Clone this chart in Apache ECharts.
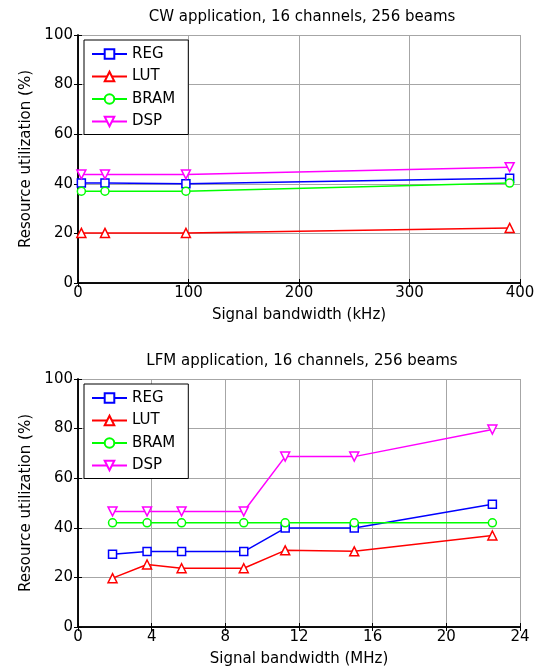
<!DOCTYPE html>
<html>
<head>
<meta charset="utf-8">
<script src="https://cdn.jsdelivr.net/npm/echarts@6/dist/echarts.min.js"></script>
<style>
  html, body { margin: 0; padding: 0; background: #fff; }
  #chart { width: 548px; height: 671px; }
</style>
</head>
<body>
<div id="chart"></div>
<script>
// CW application: bandwidths in kHz
const cwBandwidth = [3.05, 24.41, 97.66, 390.63];
const cwReg  = [40.3, 40.3, 40.0, 42.2];
const cwLut  = [20.2, 20.2, 20.2, 22.2];
const cwBram = [37.0, 37.0, 37.0, 40.3];
const cwDsp  = [43.8, 43.8, 43.8, 46.7];

// LFM application: bandwidths in MHz
const lfmBandwidth = [1.875, 3.75, 5.625, 9, 11.25, 15, 22.5];
const lfmReg  = [29.3, 30.4, 30.4, 30.4, 39.9, 39.9, 49.5];
const lfmLut  = [19.7, 25.2, 23.7, 23.7, 30.9, 30.5, 36.9];
const lfmBram = [42.0, 42.0, 42.0, 42.0, 42.0, 42.0, 42.0];
const lfmDsp  = [46.6, 46.6, 46.6, 46.6, 68.7, 68.7, 79.6];

const resourceNames = ['REG', 'LUT', 'BRAM', 'DSP'];
const yTicks = [0, 20, 40, 60, 80, 100];
const cwXTicks = [0, 100, 200, 300, 400];
const lfmXTicks = [0, 4, 8, 12, 16, 20, 24];

const titles = ['CW application, 16 channels, 256 beams', 'LFM application, 16 channels, 256 beams'];
const xNames = ['Signal bandwidth (kHz)', 'Signal bandwidth (MHz)'];
const yName = 'Resource utilization (%)';

const colors = ['#0000ff', '#ff0000', '#00ff00', '#ff00ff'];
const symbols = ['rect', 'triangle', 'circle', 'path://M0,0 L10,0 L5,8.66 Z'];
const symbolSizes = [8, 9, 8, 9];

const FONT = 'DejaVu Sans, Verdana, sans-serif';

const grids = [
  { left: 78, right: 28, top: 35, height: 248 },
  { left: 78, right: 28, top: 379, height: 248 }
];

function pairs(xs, ys) { return xs.map((x, i) => [x, ys[i]]); }

const panels = [
  { xs: cwBandwidth, sets: [cwReg, cwLut, cwBram, cwDsp], ticks: cwXTicks },
  { xs: lfmBandwidth, sets: [lfmReg, lfmLut, lfmBram, lfmDsp], ticks: lfmXTicks }
];

const frameLine = { show: true, lineStyle: { color: '#000', width: 1.5 } };
const innerTick = { show: true, inside: true, length: 4, lineStyle: { color: '#000' } };
const gridLine = { show: true, lineStyle: { color: '#a6a6a6', width: 1 } };

const xAxes = [], yAxes = [], series = [], titleList = [], legends = [];

panels.forEach((p, g) => {
  const xMin = p.ticks[0], xMax = p.ticks[p.ticks.length - 1];
  const xInt = p.ticks[1] - p.ticks[0];
  const yInt = yTicks[1] - yTicks[0];
  // bottom x axis with labels
  xAxes.push({
    type: 'value', gridIndex: g, min: xMin, max: xMax, interval: xInt, position: 'bottom',
    name: xNames[g], nameLocation: 'middle', nameGap: 25,
    nameTextStyle: { fontFamily: FONT, fontSize: 15, color: '#000' },
    axisLine: frameLine, axisTick: innerTick,
    axisLabel: { fontFamily: FONT, fontSize: 15, color: '#000', margin: 3 },
    splitLine: gridLine
  });
  // top x axis, ticks only (closes the box)
  xAxes.push({
    type: 'value', gridIndex: g, min: xMin, max: xMax, interval: xInt, position: 'top',
    axisLine: frameLine, axisTick: innerTick,
    axisLabel: { show: false }, splitLine: { show: false }
  });
  yAxes.push({
    type: 'value', gridIndex: g, min: yTicks[0], max: yTicks[yTicks.length - 1], interval: yInt,
    position: 'left',
    name: yName, nameLocation: 'middle', nameGap: 44, nameRotate: 90,
    nameTextStyle: { fontFamily: FONT, fontSize: 15, color: '#000' },
    axisLine: frameLine, axisTick: innerTick,
    axisLabel: { fontFamily: FONT, fontSize: 15, color: '#000', margin: 5 },
    splitLine: gridLine
  });
  yAxes.push({
    type: 'value', gridIndex: g, min: yTicks[0], max: yTicks[yTicks.length - 1], interval: yInt,
    position: 'right',
    axisLine: frameLine, axisTick: innerTick,
    axisLabel: { show: false }, splitLine: { show: false }
  });

  titleList.push({
    text: titles[g], left: 297, textAlign: 'center', top: g === 0 ? 5 : 349,
    textStyle: { fontFamily: FONT, fontSize: 15, fontWeight: 'normal', color: '#000' }
  });

  p.sets.forEach((vals, k) => {
    series.push({
      name: resourceNames[k], type: 'line',
      xAxisIndex: g * 2, yAxisIndex: g * 2,
      data: pairs(p.xs, vals),
      symbol: symbols[k], symbolSize: symbolSizes[k], showAllSymbol: true,
      lineStyle: { color: colors[k], width: 1.5 },
      itemStyle: { color: '#ffffff', borderColor: colors[k], borderWidth: 1.5 },
      emphasis: { disabled: true },
      z: 3 + k
    });
  });

  legends.push({
    orient: 'vertical', left: 84, top: g === 0 ? 40 : 384,
    data: resourceNames,
    backgroundColor: '#ffffff', borderColor: '#000', borderWidth: 1,
    padding: [6, 13, 5, 7], itemGap: 6.5, itemWidth: 35, itemHeight: 12,
    textStyle: { fontFamily: FONT, fontSize: 15, lineHeight: 16, color: '#000' },
    selectedMode: false, z: 10
  });
});

const chart = echarts.init(document.getElementById('chart'), null, { renderer: 'canvas' });
chart.setOption({
  backgroundColor: '#ffffff',
  animation: false,
  title: titleList,
  grid: grids,
  xAxis: xAxes,
  yAxis: yAxes,
  legend: legends,
  series: series
});
</script>
</body>
</html>
